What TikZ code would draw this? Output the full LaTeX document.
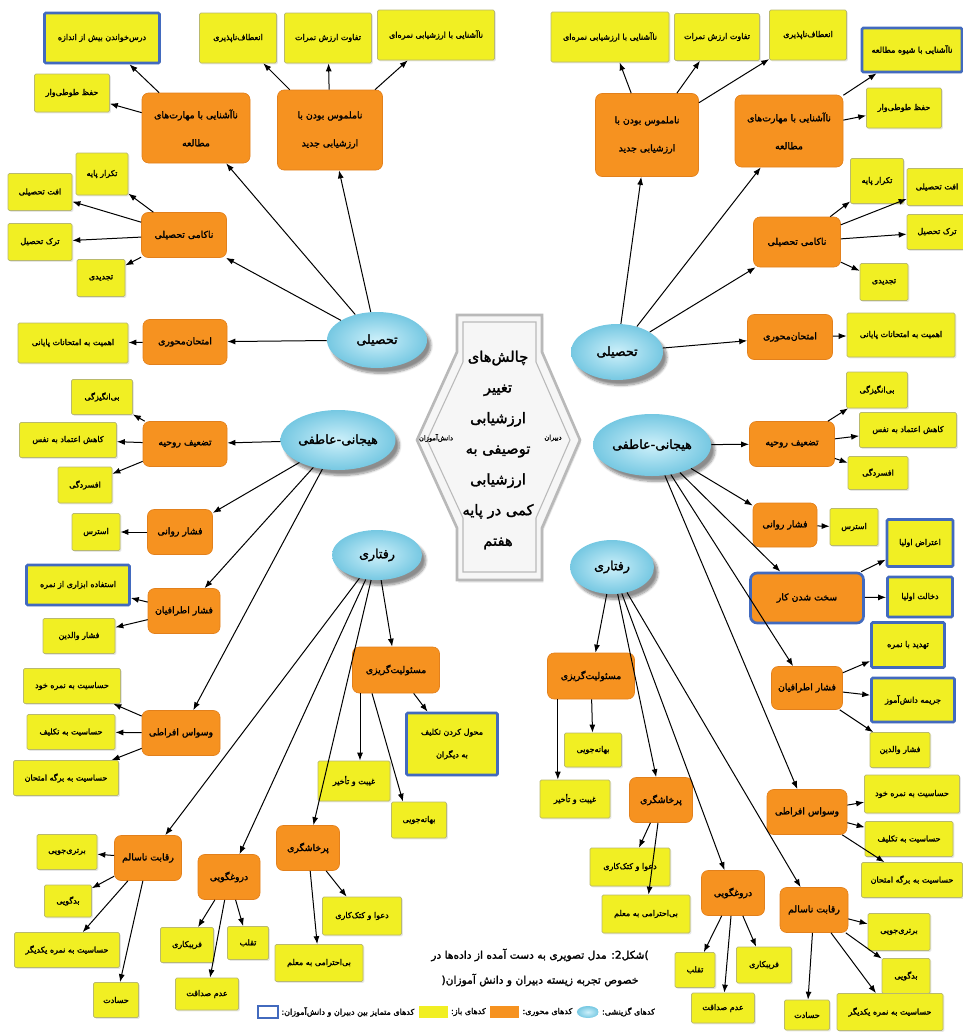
\documentclass[tikz,border=0pt]{standalone}
\usepackage{fontspec}
\newfontfamily\fafont[Script=Arabic,FakeBold=1.8]{DejaVu Sans}
\TeXXeTstate=1
\usetikzlibrary{shapes.geometric, arrows.meta, shadows, shadows.blur}
\definecolor{openfill}{RGB}{241, 239, 35}
\definecolor{openborder}{RGB}{185, 185, 110}
\definecolor{axialfill}{RGB}{246, 146, 32}
\definecolor{axialborder}{RGB}{226, 128, 28}
\definecolor{selinner}{RGB}{205, 240, 250}
\definecolor{selouter}{RGB}{118, 200, 226}
\definecolor{distinctborder}{RGB}{66, 106, 190}
\definecolor{hubborder}{RGB}{185, 185, 185}
\definecolor{hubfill}{RGB}{246, 246, 246}
\newcommand{\fatxt}[1]{\beginR#1\endR}
\newcommand{\pk}{\kern0pt}

\begin{document}
\begin{tikzpicture}[
    x=0.75pt, y=-0.75pt,
    font=\fafont,
    sz/.style 2 args={minimum width=#1*0.75pt, minimum height=#2*0.75pt},
    selcode/.style={
        ellipse, inner sep=0pt, shading=radial,
        inner color=selinner, outer color=selouter,
        blur shadow={shadow xshift=3pt, shadow yshift=-4pt, shadow blur steps=8, shadow opacity=45},
        font=\fafont\fontsize{9.5}{11}\selectfont
    },
    axialcode/.style={
        rectangle, rounded corners=5pt,
        fill=axialfill, draw=axialborder, line width=0.5pt,
        inner sep=1pt, align=center,
        font=\fafont\fontsize{7}{21}\selectfont
    },
    opencode/.style={
        rectangle, rounded corners=1pt,
        fill=openfill, draw=openborder, line width=0.5pt,
        drop shadow={shadow xshift=1pt, shadow yshift=-1pt, opacity=0.2},
        inner sep=1pt, align=center,
        font=\fafont\fontsize{6}{17}\selectfont
    },
    distinct/.style={draw=distinctborder, line width=2pt},
    arrow/.style={
        -{Latex[length=6pt, width=4.5pt]},
        line width=0.75pt, draw=black
    },
    lbl/.style={inner sep=1pt, font=\fafont\fontsize{5}{6}\selectfont},
    legtext/.style={inner sep=0pt, anchor=west, font=\fafont\fontsize{6}{7}\selectfont},
    captext/.style={inner sep=1pt, font=\fafont\fontsize{8}{10}\selectfont}
]
\useasboundingbox (0,0) rectangle (963,1035);

% ================= Hub =================
\path[fill=hubfill, draw=hubborder, line width=2pt,
      drop shadow={shadow xshift=1pt, shadow yshift=-2pt, opacity=0.2}]
    (457,315) -- (542,315) -- (542,352) -- (580,440) -- (542,528) -- (542,580)
    -- (457,580) -- (457,528) -- (417,440) -- (457,352) -- cycle;
\draw[hubborder, line width=0.8pt]
    (463,322) -- (536,322) -- (536,362) -- (570,440) -- (536,518) -- (536,572)
    -- (463,572) -- (463,518) -- (427,440) -- (463,362) -- cycle;

\node[align=center, inner sep=0pt, font=\fafont\fontsize{11}{23}\selectfont] (hub) at (498,450) {
    \fatxt{چالش‌های}\\ \fatxt{تغییر}\\ \fatxt{ارزشیابی}\\ \fatxt{توصیفی به}\\
    \fatxt{ارزشیابی}\\ \fatxt{کمی در پایه}\\ \fatxt{هفتم}
};
\node[lbl] (hubL) at (436,438) {\fatxt{دانش‌آموزان}};
\node[lbl] (hubR) at (553,438) {\fatxt{دبیران}};

% ================= Selective codes =================
\node[selcode, sz={100}{56}] (lAcad) at (377,340) {\fatxt{تحصیلی}};
\node[selcode, sz={115}{60}] (lEmo) at (338,440) {\fatxt{هیجانی-عاطفی}};
\node[selcode, sz={90}{50}] (lBeh) at (377,555) {\fatxt{رفتاری}};
\node[selcode, sz={92}{56}] (rAcad) at (617,352) {\fatxt{تحصیلی}};
\node[selcode, sz={118}{62}] (rEmo) at (652,445) {\fatxt{هیجانی-عاطفی}};
\node[selcode, sz={84}{54}] (rBeh) at (612,567) {\fatxt{رفتاری}};

% ================= Left: academic =================
\node[axialcode, sz={108}{70}] (lStudy) at (196,128) {\fatxt{ناآشنایی با مهارت‌های}\\\fatxt{مطالعه}};
\node[opencode, distinct, sz={115}{50}] (lOverStudy) at (102,38) {\fatxt{درس‌خواندن بیش از اندازه}};
\node[opencode, sz={75}{38}] (lRote) at (72,93) {\fatxt{حفظ طوطی‌وار}};

\node[axialcode, sz={105}{80}] (lNew) at (330,130) {\fatxt{ناملموس بودن با}\\\fatxt{ارزشیابی جدید}};
\node[opencode, sz={77}{50}] (lInflex) at (238,38) {\fatxt{انعطاف‌ناپذیری}};
\node[opencode, sz={87}{50}] (lDiff) at (328,38) {\fatxt{تفاوت ارزش نمرات}};
\node[opencode, sz={117}{50}] (lUnfam) at (436,35) {\fatxt{ناآشنایی با ارزشیابی نمره‌ای}};

\node[axialcode, sz={85}{45}] (lFail) at (184,235) {\fatxt{ناکامی تحصیلی}};
\node[opencode, sz={52}{42}] (lRepeat) at (102,174) {\fatxt{تکرار پایه}};
\node[opencode, sz={64}{37}] (lDrop) at (40,192) {\fatxt{افت تحصیلی}};
\node[opencode, sz={64}{37}] (lQuit) at (40,242) {\fatxt{ترک تحصیل}};
\node[opencode, sz={48}{37}] (lResit) at (101,278) {\fatxt{تجدیدی}};

\node[axialcode, sz={84}{45}] (lExam) at (185,342) {\fatxt{امتحان‌محوری}};
\node[opencode, sz={110}{40}] (lFinal) at (73,343) {\fatxt{اهمیت به امتحانات پایانی}};

% ================= Left: emotional =================
\node[axialcode, sz={84}{45}] (lMorale) at (185,444) {\fatxt{تضعیف روحیه}};
\node[opencode, sz={61}{35}] (lUnmot) at (102,397) {\fatxt{بی‌انگیزگی}};
\node[opencode, sz={97}{35}] (lConf) at (68,440) {\fatxt{کاهش اعتماد به نفس}};
\node[opencode, sz={54}{36}] (lDepr) at (85,485) {\fatxt{افسردگی}};

\node[axialcode, sz={65}{45}] (lPsy) at (180,532) {\fatxt{فشار روانی}};
\node[opencode, sz={48}{37}] (lStress) at (96,532) {\fatxt{استرس}};

\node[axialcode, sz={72}{45}] (lPeer) at (184,611) {\fatxt{فشار اطرافیان}};
\node[opencode, distinct, sz={103}{40}] (lMisuse) at (78,585) {\fatxt{استفاده ابزاری از نمره}};
\node[opencode, sz={72}{35}] (lParent) at (79,636) {\fatxt{فشار والدین}};

\node[axialcode, sz={78}{45}] (lObs) at (181,733) {\fatxt{وسواس افراطی}};
\node[opencode, sz={97}{35}] (lSensSelf) at (72,686) {\fatxt{حساسیت به نمره خود}};
\node[opencode, sz={88}{35}] (lSensTask) at (71,732) {\fatxt{حساسیت به تکلیف}};
\node[opencode, sz={105}{35}] (lSensPaper) at (66,778) {\fatxt{حساسیت به برگه امتحان}};

% ================= Left: behavioural =================
\node[axialcode, sz={67}{45}] (lRival) at (148,858) {\fatxt{رقابت ناسالم}};
\node[opencode, sz={60}{35}] (lSuper) at (67,852) {\fatxt{برتری‌جویی}};
\node[opencode, sz={47}{32}] (lGossip) at (68,901) {\fatxt{بدگویی}};
\node[opencode, sz={105}{35}] (lSensOther) at (67,950) {\fatxt{حساسیت به نمره یکدیگر}};
\node[opencode, sz={45}{35}] (lJeal) at (116,1000) {\fatxt{حسادت}};

\node[axialcode, sz={62}{45}] (lLie) at (229,877) {\fatxt{دروغگویی}};
\node[opencode, sz={53}{35}] (lFraud) at (187,945) {\fatxt{فریبکاری}};
\node[opencode, sz={41}{33}] (lCheat) at (248,943) {\fatxt{تقلب}};
\node[opencode, sz={63}{32}] (lHonest) at (207,994) {\fatxt{عدم صداقت}};

\node[axialcode, sz={63}{45}] (lAggr) at (308,848) {\fatxt{پرخاشگری}};
\node[opencode, sz={79}{38}] (lFight) at (362,916) {\fatxt{دعوا و کتک‌کاری}};
\node[opencode, sz={88}{37}] (lDisresp) at (319,963) {\fatxt{بی‌احترامی به معلم}};

\node[axialcode, sz={87}{46}] (lResp) at (396,670) {\fatxt{مسئولیت‌گریزی}};
\node[opencode, distinct, sz={91}{62}] (lDelegate) at (452,744) {\fatxt{محول کردن تکلیف}\\\fatxt{به دیگران}};
\node[opencode, sz={72}{40}] (lAbsent) at (354,781) {\fatxt{غیبت و تأخیر}};
\node[opencode, sz={55}{36}] (lExcuse) at (419,820) {\fatxt{بهانه‌جویی}};

% ================= Right: academic =================
\node[axialcode, sz={103}{83}] (rNew) at (647,135) {\fatxt{ناملموس بودن با}\\\fatxt{ارزشیابی جدید}};
\node[opencode, sz={118}{50}] (rUnfam) at (610,37) {\fatxt{ناآشنایی با ارزشیابی نمره‌ای}};
\node[opencode, sz={85}{47}] (rDiff) at (717,37) {\fatxt{تفاوت ارزش نمرات}};
\node[opencode, sz={77}{50}] (rInflex) at (808,35) {\fatxt{انعطاف‌ناپذیری}};

\node[axialcode, sz={108}{72}] (rStudy) at (789,131) {\fatxt{ناآشنایی با مهارت‌های}\\\fatxt{مطالعه}};
\node[opencode, distinct, sz={100}{44}] (rStyle) at (912,50) {\fatxt{ناآشنایی با شیوه مطالعه}};
\node[opencode, sz={75}{40}] (rRote) at (904,108) {\fatxt{حفظ طوطی‌وار}};

\node[axialcode, sz={87}{50}] (rFail) at (797,242) {\fatxt{ناکامی تحصیلی}};
\node[opencode, sz={53}{45}] (rRepeat) at (877,181) {\fatxt{تکرار پایه}};
\node[opencode, sz={60}{37}] (rDrop) at (937,187) {\fatxt{افت تحصیلی}};
\node[opencode, sz={60}{35}] (rQuit) at (937,232) {\fatxt{ترک تحصیل}};
\node[opencode, sz={48}{37}] (rResit) at (884,282) {\fatxt{تجدیدی}};

\node[axialcode, sz={85}{45}] (rExam) at (790,337) {\fatxt{امتحان‌محوری}};
\node[opencode, sz={108}{44}] (rFinal) at (901,335) {\fatxt{اهمیت به امتحانات پایانی}};

% ================= Right: emotional =================
\node[axialcode, sz={85}{45}] (rMorale) at (792,444) {\fatxt{تضعیف روحیه}};
\node[opencode, sz={61}{36}] (rUnmot) at (877,390) {\fatxt{بی‌انگیزگی}};
\node[opencode, sz={97}{35}] (rConf) at (908,430) {\fatxt{کاهش اعتماد به نفس}};
\node[opencode, sz={60}{33}] (rDepr) at (878,473) {\fatxt{افسردگی}};

\node[axialcode, sz={64}{44}] (rPsy) at (785,525) {\fatxt{فشار روانی}};
\node[opencode, sz={48}{37}] (rStress) at (854,527) {\fatxt{استرس}};

\node[axialcode, distinct, sz={113}{50}] (rHard) at (807,598) {\fatxt{سخت شدن کار}};
\node[opencode, distinct, sz={66}{47}] (rProtest) at (920,543) {\fatxt{اعتراض اولیا}};
\node[opencode, distinct, sz={65}{40}] (rInterf) at (920,597) {\fatxt{دخالت اولیا}};

\node[axialcode, sz={71}{43}] (rPeer) at (807,688) {\fatxt{فشار اطرافیان}};
\node[opencode, distinct, sz={73}{45}] (rThreat) at (908,645) {\fatxt{تهدید با نمره}};
\node[opencode, distinct, sz={83}{44}] (rFine) at (913,700) {\fatxt{جریمه دانش‌آموز}};
\node[opencode, sz={60}{35}] (rParent) at (900,750) {\fatxt{فشار والدین}};

\node[axialcode, sz={80}{45}] (rObs) at (807,812) {\fatxt{وسواس افراطی}};
\node[opencode, sz={95}{38}] (rSensSelf) at (912,794) {\fatxt{حساسیت به نمره خود}};
\node[opencode, sz={88}{35}] (rSensTask) at (909,839) {\fatxt{حساسیت به تکلیف}};
\node[opencode, sz={101}{35}] (rSensPaper) at (912,880) {\fatxt{حساسیت به برگه امتحان}};

% ================= Right: behavioural =================
\node[axialcode, sz={87}{46}] (rResp) at (591,676) {\fatxt{مسئولیت‌گریزی}};
\node[opencode, sz={57}{34}] (rExcuse) at (593,750) {\fatxt{بهانه‌جویی}};
\node[opencode, sz={70}{38}] (rAbsent) at (575,799) {\fatxt{غیبت و تأخیر}};

\node[axialcode, sz={63}{45}] (rAggr) at (661,800) {\fatxt{پرخاشگری}};
\node[opencode, sz={80}{38}] (rFight) at (630,867) {\fatxt{دعوا و کتک‌کاری}};
\node[opencode, sz={88}{38}] (rDisresp) at (646,914) {\fatxt{بی‌احترامی به معلم}};

\node[axialcode, sz={63}{45}] (rLie) at (733,893) {\fatxt{دروغگویی}};
\node[opencode, sz={40}{35}] (rCheat) at (695,970) {\fatxt{تقلب}};
\node[opencode, sz={55}{36}] (rFraud) at (764,965) {\fatxt{فریبکاری}};
\node[opencode, sz={63}{30}] (rHonest) at (723,1008) {\fatxt{عدم صداقت}};

\node[axialcode, sz={68}{45}] (rRival) at (814,910) {\fatxt{رقابت ناسالم}};
\node[opencode, sz={62}{37}] (rSuper) at (899,932) {\fatxt{برتری‌جویی}};
\node[opencode, sz={48}{35}] (rGossip) at (906,976) {\fatxt{بدگویی}};
\node[opencode, sz={45}{30}] (rJeal) at (807,1015) {\fatxt{حسادت}};
\node[opencode, sz={106}{37}] (rSensOther) at (890,1012) {\fatxt{حساسیت به نمره یکدیگر}};

% ================= Caption and legend =================
\node[captext] (capA) at (540,955) {\fatxt{)\pk شکل2\pk: مدل تصویری به دست آمده از داده‌ها در}};
\node[captext] (capB) at (540,980) {\fatxt{خصوص تجربه زیسته دبیران و دانش آموزان\pk(}};

\node[rectangle, draw=distinctborder, line width=0.8pt, fill=white, sz={20}{12}, inner sep=0pt] (legDist) at (268,1012) {};
\node[legtext] (legDistTxt) at ([xshift=2pt]legDist.east) {\fatxt{کدهای متمایز بین دبیران و دانش‌آموزان\pk:}};
\node[rectangle, fill=openfill, sz={29}{12}, inner sep=0pt, anchor=west] (legOpen) at ([xshift=3pt]legDistTxt.east) {};
\node[legtext] (legOpenTxt) at ([xshift=2pt]legOpen.east) {\fatxt{کدهای باز\pk:}};
\node[rectangle, fill=axialfill, sz={29}{12}, inner sep=0pt, anchor=west] (legAx) at ([xshift=3pt]legOpenTxt.east) {};
\node[legtext] (legAxTxt) at ([xshift=2pt]legAx.east) {\fatxt{کدهای محوری\pk:}};
\node[ellipse, shading=radial, inner color=selinner, outer color=selouter, sz={22}{12}, inner sep=0pt, anchor=west] (legSel) at ([xshift=3pt]legAxTxt.east) {};
\node[legtext] (legSelTxt) at ([xshift=2pt]legSel.east) {\fatxt{کدهای گزینشی\pk:}};

% ================= Connectors, left =================
\foreach \t in {lStudy, lNew, lFail, lExam} \draw[arrow] (lAcad) -- (\t);
\foreach \t in {lOverStudy, lRote} \draw[arrow] (lStudy) -- (\t);
\foreach \t in {lInflex, lDiff, lUnfam} \draw[arrow] (lNew) -- (\t);
\foreach \t in {lRepeat, lDrop, lQuit, lResit} \draw[arrow] (lFail) -- (\t);
\draw[arrow] (lExam) -- (lFinal);

\foreach \t in {lMorale, lPsy, lPeer, lObs} \draw[arrow] (lEmo) -- (\t);
\foreach \t in {lUnmot, lConf, lDepr} \draw[arrow] (lMorale) -- (\t);
\draw[arrow] (lPsy) -- (lStress);
\foreach \t in {lMisuse, lParent} \draw[arrow] (lPeer) -- (\t);
\foreach \t in {lSensSelf, lSensTask, lSensPaper} \draw[arrow] (lObs) -- (\t);

\foreach \t in {lResp, lAggr, lLie, lRival} \draw[arrow] (lBeh) -- (\t);
\foreach \t in {lSuper, lGossip, lSensOther, lJeal} \draw[arrow] (lRival) -- (\t);
\foreach \t in {lFraud, lHonest, lCheat} \draw[arrow] (lLie) -- (\t);
\foreach \t in {lFight, lDisresp} \draw[arrow] (lAggr) -- (\t);
\draw[arrow] ([xshift=-27pt]lResp.south) -- ([xshift=-27pt]lResp.south |- lAbsent.north);
\draw[arrow] ([xshift=-18pt]lResp.south) -- ([xshift=-12pt]lExcuse.north);
\draw[arrow] (lResp) -- (lDelegate);

% ================= Connectors, right =================
\foreach \t in {rNew, rStudy, rFail, rExam} \draw[arrow] (rAcad) -- (\t);
\foreach \t in {rUnfam, rDiff, rInflex} \draw[arrow] (rNew) -- (\t);
\foreach \t in {rStyle, rRote} \draw[arrow] (rStudy) -- (\t);
\foreach \t in {rRepeat, rDrop, rQuit, rResit} \draw[arrow] (rFail) -- (\t);
\draw[arrow] (rExam) -- (rFinal);

\foreach \t in {rMorale, rPsy, rHard, rPeer, rObs} \draw[arrow] (rEmo) -- (\t);
\foreach \t in {rUnmot, rConf, rDepr} \draw[arrow] (rMorale) -- (\t);
\draw[arrow] (rPsy) -- (rStress);
\foreach \t in {rProtest, rInterf} \draw[arrow] (rHard) -- (\t);
\foreach \t in {rThreat, rFine, rParent} \draw[arrow] (rPeer) -- (\t);
\foreach \t in {rSensSelf, rSensTask, rSensPaper} \draw[arrow] (rObs) -- (\t);

\foreach \t in {rResp, rAggr, rLie, rRival} \draw[arrow] (rBeh) -- (\t);
\draw[arrow] ([xshift=8pt]rResp.south west) -- ([xshift=8pt]rResp.south west |- rAbsent.north);
\draw[arrow] (rResp) -- (rExcuse);
\foreach \t in {rFight, rDisresp} \draw[arrow] (rAggr) -- (\t);
\foreach \t in {rCheat, rHonest, rFraud} \draw[arrow] (rLie) -- (\t);
\foreach \t in {rSuper, rGossip, rSensOther, rJeal} \draw[arrow] (rRival) -- (\t);

\end{tikzpicture}
\end{document}
